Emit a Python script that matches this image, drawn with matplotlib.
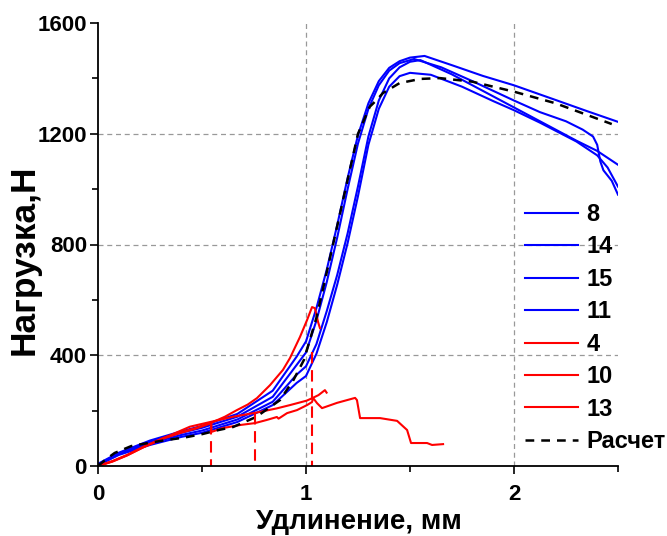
import matplotlib
matplotlib.use("Agg")
import matplotlib.pyplot as plt
from matplotlib.ticker import MultipleLocator, FixedLocator

plt.rcParams["font.family"] = ["Liberation Sans", "DejaVu Sans"]
plt.rcParams["font.weight"] = "bold"

# опыт: образцы 8, 14, 15, 11 (синие) и 4, 10, 13 (красные)
x8 = [0, 0.1, 0.25, 0.4, 0.5, 0.67, 0.84, 0.955, 1.0, 1.05, 1.1, 1.15, 1.2, 1.25, 1.3, 1.35, 1.4, 1.45, 1.5, 1.57, 1.7, 1.85, 2.0, 2.2, 2.35, 2.5]
y8 = [8, 48, 92, 125, 145, 188, 272, 395, 450, 570, 710, 870, 1040, 1195, 1310, 1390, 1438, 1462, 1475, 1481, 1448, 1409, 1375, 1322, 1282, 1243]

x14 = [0, 0.1, 0.25, 0.4, 0.5, 0.67, 0.84, 0.955, 1.0, 1.05, 1.1, 1.15, 1.2, 1.25, 1.3, 1.35, 1.4, 1.45, 1.52, 1.65, 1.8, 2.0, 2.125, 2.25, 2.33, 2.38, 2.4, 2.415, 2.43, 2.47, 2.5]
y14 = [5, 45, 88, 120, 138, 178, 250, 365, 410, 525, 665, 825, 1000, 1165, 1290, 1375, 1428, 1455, 1470, 1440, 1390, 1320, 1278, 1245, 1215, 1190, 1160, 1100, 1068, 1030, 980]

x15 = [0, 0.1, 0.25, 0.4, 0.5, 0.67, 0.84, 0.955, 1.0, 1.05, 1.1, 1.15, 1.2, 1.25, 1.3, 1.35, 1.4, 1.45, 1.5, 1.55, 1.7, 1.85, 2.0, 2.125, 2.3, 2.4, 2.5]
y15 = [4, 42, 82, 112, 128, 168, 232, 330, 360, 440, 560, 690, 840, 1010, 1190, 1320, 1400, 1440, 1460, 1466, 1415, 1355, 1295, 1245, 1175, 1138, 1088]

x11 = [0, 0.1, 0.25, 0.4, 0.5, 0.67, 0.84, 0.955, 1.0, 1.05, 1.1, 1.15, 1.2, 1.25, 1.3, 1.35, 1.4, 1.45, 1.5, 1.6, 1.75, 1.9, 2.0, 2.125, 2.3, 2.4, 2.45, 2.5]
y11 = [3, 40, 76, 105, 120, 159, 220, 300, 325, 405, 520, 655, 805, 975, 1160, 1290, 1370, 1408, 1420, 1413, 1370, 1318, 1285, 1240, 1172, 1122, 1078, 1009]

x4 = [0, 0.07, 0.14, 0.22, 0.31, 0.39, 0.47, 0.55, 0.61, 0.668, 0.72, 0.764, 0.827, 0.889, 0.923, 0.971, 1.005, 1.029, 1.043, 1.058, 1.067]
y4 = [0, 18, 40, 70, 100, 120, 137, 158, 178, 202, 222, 245, 292, 347, 390, 466, 527, 574, 570, 520, 498]

x10 = [0, 0.07, 0.14, 0.22, 0.31, 0.39, 0.47, 0.545, 0.545, 0.6, 0.683, 0.755, 0.81, 0.86, 0.868, 0.909, 0.957, 1.005, 1.029, 1.034, 1.053, 1.077, 1.149, 1.236, 1.245, 1.26, 1.356, 1.438, 1.486, 1.505, 1.582, 1.606, 1.659]
y10 = [0, 16, 38, 68, 98, 118, 135, 155, 123, 137, 148, 155, 166, 177, 171, 191, 202, 220, 231, 246, 227, 209, 228, 246, 238, 173, 173, 163, 130, 83, 83, 76, 79]

x13 = [0, 0.07, 0.14, 0.22, 0.31, 0.442, 0.546, 0.65, 0.755, 0.763, 0.859, 0.923, 1.003, 1.027, 1.06, 1.091, 1.099]
y13 = [0, 17, 39, 69, 99, 142, 160, 178, 192, 193, 208, 220, 236, 244, 256, 274, 265]

# расчёт
x_calc = [0, 0.04, 0.08, 0.16, 0.24, 0.33, 0.41, 0.5, 0.58, 0.65, 0.76, 0.875, 0.94, 0.99, 1.05, 1.13, 1.19, 1.25, 1.307, 1.34, 1.37, 1.45, 1.55, 1.644, 1.8, 2.0, 2.2, 2.47]
y_calc = [0, 25, 47, 72, 83, 94, 102, 115, 130, 141, 177, 238, 311, 383, 535, 800, 1000, 1200, 1298, 1322, 1347, 1383, 1398, 1401, 1388, 1352, 1310, 1235]

# разрывы красных образцов
x_break = [0.545, 0.755, 1.027]
y_break = [155, 192, 410]

blue = "#0000ff"
red = "#ff0000"

fig = plt.figure(figsize=(6.67, 5.36), dpi=100)
ax = fig.add_axes([98 / 667, 70 / 536, 520 / 667, 443 / 536])

for v in [400, 800, 1200]:
    ax.axhline(v, color="#999999", lw=0.9, ls=(0, (4, 3)), zorder=0)
for v in [1, 2]:
    ax.axvline(v, color="#999999", lw=0.9, ls=(0, (4, 3)), zorder=0)

ax.plot(x8, y8, color=blue, lw=1.5, label="8")
ax.plot(x14, y14, color=blue, lw=1.5, label="14")
ax.plot(x15, y15, color=blue, lw=1.5, label="15")
ax.plot(x11, y11, color=blue, lw=1.5, label="11")
ax.plot(x4, y4, color=red, lw=1.5, label="4")
ax.plot(x10, y10, color=red, lw=1.5, label="10")
ax.plot(x13, y13, color=red, lw=1.5, label="13")
ax.plot(x_calc, y_calc, color="black", lw=1.8, ls=(0, (3.5, 2.8)), label="Расчет")

for xb, yb in zip(x_break, y_break):
    ax.plot([xb, xb], [yb, 0], color=red, lw=1.5, ls=(0, (5.5, 3.2)))

ax.set_xlim(0, 2.5)
ax.set_ylim(0, 1600)
ax.spines["top"].set_visible(False)
ax.spines["right"].set_visible(False)
ax.spines["left"].set_linewidth(1.3)
ax.spines["bottom"].set_linewidth(1.3)

ax.xaxis.set_major_locator(FixedLocator([0, 1, 2]))
ax.xaxis.set_minor_locator(FixedLocator([0.5, 1.5, 2.5]))
ax.yaxis.set_major_locator(MultipleLocator(400))
ax.yaxis.set_minor_locator(MultipleLocator(200))
ax.tick_params(which="major", direction="out", length=6, width=1.2, labelsize=16)
ax.tick_params(which="minor", direction="out", length=4, width=1.2)
ax.tick_params(axis="x", which="major", pad=7)
ax.tick_params(axis="y", which="major", pad=2)
for lbl in ax.get_xticklabels() + ax.get_yticklabels():
    lbl.set_fontweight("bold")

fig.text(24 / 667, 1 - 260 / 536, "Нагрузка,Н", rotation=90, ha="center", va="center",
         fontsize=25.5, fontweight="bold")
fig.text(359 / 667, 1 - 529 / 536, "Удлинение, мм", ha="center", va="baseline",
         fontsize=20, fontweight="bold")

leg = ax.legend(loc="upper left", bbox_to_anchor=(525 / 667, 1 - 203 / 536),
                bbox_transform=fig.transFigure, frameon=False, fontsize=17,
                borderpad=0, borderaxespad=0, handlelength=2.25, handletextpad=0.36,
                labelspacing=0.40)
for t in leg.get_texts():
    t.set_fontweight("bold")

fig.savefig("out.png", dpi=100)
